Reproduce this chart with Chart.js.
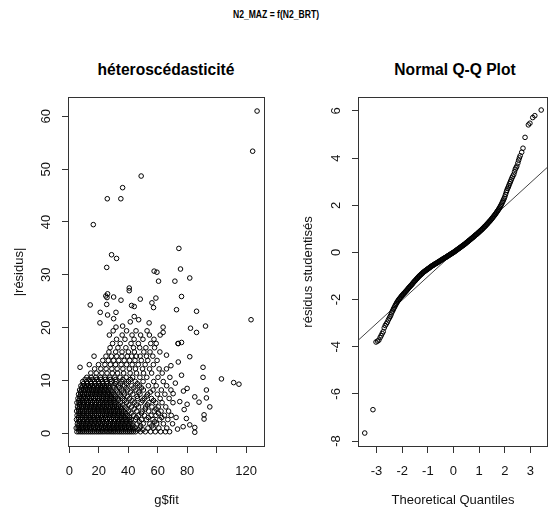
<!DOCTYPE html>
<html lang="fr">
<head>
<meta charset="utf-8">
<script src="https://cdn.jsdelivr.net/npm/chart.js@4.4.1/dist/chart.umd.min.js"></script>
<style>
  html, body { margin: 0; padding: 0; background: #fff; overflow: hidden; }
  #page { position: relative; width: 552px; height: 508px; font-family: 'Liberation Sans', Arial, sans-serif; }
  canvas { position: absolute; top: 0; }
  .titre { position: absolute; font-weight: bold; color: #000; white-space: nowrap; }
</style>
</head>
<body>
<div id="page">
  <div class="titre" style="left:276px;top:8px;font-size:11px;transform:translateX(-50%) scaleX(0.78)">N2_MAZ = f(N2_BRT)</div>
  <div class="titre" style="left:166px;top:61px;font-size:15.6px;transform:translateX(-50%)">héteroscédasticité</div>
  <div class="titre" style="left:455px;top:61px;font-size:15.6px;transform:translateX(-50%)">Normal Q-Q Plot</div>
  <canvas id="residus" width="276" height="508" style="left:0"></canvas>
  <canvas id="qqplot" width="276" height="508" style="left:276px"></canvas>
</div>
<script>
// Nuage |résidus| en fonction de g$fit : [fit, |résidu|]
const nuageDense = [
  [5.2,0.3],[7.8,0.3],[10.4,0.3],[13.1,0.3],[15.7,0.3],[18.4,0.3],[21.0,0.3],[23.6,0.3],[26.3,0.3],[28.9,0.3],[31.5,0.3],[34.2,0.3],[36.8,0.3],[39.5,0.3],[42.1,0.3],[45.0,0.3],[48.3,0.3],[51.6,0.3],[55.2,0.3],[58.4,0.3],[62.0,0.3],[65.3,0.3],[68.1,0.3],
  [4.7,1.0],[7.2,1.0],[9.9,1.0],[12.5,1.0],[15.1,1.0],[17.8,1.0],[20.4,1.0],[23.1,1.0],[25.7,1.0],[28.4,1.0],[31.0,1.0],[33.6,1.0],[36.3,1.0],[38.9,1.0],[41.7,1.0],[44.6,1.0],[47.9,1.0],[53.4,1.0],[57.0,1.0],[60.8,1.0],[66.2,1.0],
  [5.5,1.8],[8.1,1.8],[10.8,1.8],[13.4,1.8],[16.0,1.8],[18.7,1.8],[21.3,1.8],[24.0,1.8],[26.6,1.8],[29.3,1.8],[31.9,1.8],[34.5,1.8],[37.2,1.8],[39.8,1.8],[42.6,1.8],[46.1,1.8],[50.2,1.8],[54.7,1.8],[59.3,1.8],[63.9,1.8],[70.1,1.8],
  [4.9,2.6],[7.5,2.6],[10.1,2.6],[12.8,2.6],[15.4,2.6],[18.1,2.6],[20.7,2.6],[23.3,2.6],[26.0,2.6],[28.6,2.6],[31.3,2.6],[33.9,2.6],[36.5,2.6],[39.2,2.6],[42.0,2.6],[44.9,2.6],[49.0,2.6],[52.5,2.6],[56.8,2.6],[61.4,2.6],[66.9,2.6],
  [5.3,3.4],[7.9,3.4],[10.6,3.4],[13.2,3.4],[15.9,3.4],[18.5,3.4],[21.2,3.4],[23.8,3.4],[26.4,3.4],[29.1,3.4],[31.7,3.4],[34.4,3.4],[37.0,3.4],[39.7,3.4],[43.5,3.4],[47.2,3.4],[51.1,3.4],[55.5,3.4],[58.9,3.4],[64.6,3.4],[69.2,3.4],
  [5.0,4.2],[7.6,4.2],[10.3,4.2],[12.9,4.2],[15.6,4.2],[18.2,4.2],[20.8,4.2],[23.5,4.2],[26.1,4.2],[28.8,4.2],[31.4,4.2],[34.0,4.2],[36.7,4.2],[40.3,4.2],[45.8,4.2],[49.5,4.2],[53.9,4.2],[57.7,4.2],[62.3,4.2],[67.4,4.2],
  [5.6,5.0],[8.2,5.0],[10.9,5.0],[13.5,5.0],[16.2,5.0],[18.8,5.0],[21.4,5.0],[24.1,5.0],[26.7,5.0],[29.4,5.0],[32.0,5.0],[34.7,5.0],[37.9,5.0],[42.2,5.0],[47.0,5.0],[51.8,5.0],[56.1,5.0],[60.4,5.0],[65.5,5.0],
  [5.2,5.8],[7.8,5.8],[10.5,5.8],[13.1,5.8],[15.8,5.8],[18.4,5.8],[21.1,5.8],[23.7,5.8],[26.3,5.8],[29.0,5.8],[31.6,5.8],[34.9,5.8],[38.8,5.8],[44.1,5.8],[48.8,5.8],[54.0,5.8],[58.7,5.8],[63.0,5.8],[70.4,5.8],
  [5.9,6.6],[8.5,6.6],[11.2,6.6],[13.8,6.6],[16.5,6.6],[19.1,6.6],[21.7,6.6],[24.4,6.6],[27.0,6.6],[29.7,6.6],[32.6,6.6],[36.2,6.6],[41.0,6.6],[46.3,6.6],[50.9,6.6],[55.8,6.6],[61.7,6.6],[67.8,6.6],
  [6.3,7.4],[9.0,7.4],[11.6,7.4],[14.3,7.4],[16.9,7.4],[19.5,7.4],[22.2,7.4],[24.8,7.4],[27.5,7.4],[30.3,7.4],[33.8,7.4],[37.6,7.4],[43.1,7.4],[48.0,7.4],[53.2,7.4],[59.8,7.4],[64.9,7.4],
  [7.0,8.2],[9.6,8.2],[12.3,8.2],[14.9,8.2],[17.6,8.2],[20.2,8.2],[22.8,8.2],[25.5,8.2],[28.3,8.2],[31.9,8.2],[35.6,8.2],[39.7,8.2],[45.2,8.2],[50.3,8.2],[56.9,8.2],[62.5,8.2],[69.0,8.2],
  [7.9,9.0],[10.5,9.0],[13.2,9.0],[15.8,9.0],[18.5,9.0],[21.1,9.0],[23.7,9.0],[26.6,9.0],[29.8,9.0],[33.4,9.0],[37.5,9.0],[42.4,9.0],[47.6,9.0],[53.7,9.0],[59.0,9.0],[66.1,9.0],
  [9.1,9.8],[11.8,9.8],[14.4,9.8],[17.1,9.8],[19.7,9.8],[22.4,9.8],[25.3,9.8],[28.5,9.8],[31.9,9.8],[35.7,9.8],[40.2,9.8],[44.8,9.8],[50.1,9.8],[57.3,9.8],[63.8,9.8]
];
// points intercalés du coeur du nuage
const nuageCoeur = [
  [6.5,0.65],[9.1,0.65],[11.7,0.65],[14.4,0.65],[17.0,0.65],[19.7,0.65],[22.3,0.65],[25.0,0.65],[27.6,0.65],[30.2,0.65],[32.9,0.65],[35.5,0.65],[38.2,0.65],[40.8,0.65],[43.6,0.65],[46.7,0.65],[50.0,0.65],
  [6.0,1.4],[8.6,1.4],[11.2,1.4],[13.9,1.4],[16.5,1.4],[19.1,1.4],[21.8,1.4],[24.4,1.4],[27.1,1.4],[29.7,1.4],[32.4,1.4],[35.0,1.4],[37.6,1.4],[40.3,1.4],[43.2,1.4],[48.5,1.4],[56.0,1.4],
  [6.8,2.2],[9.4,2.2],[12.1,2.2],[14.7,2.2],[17.3,2.2],[20.0,2.2],[22.6,2.2],[25.3,2.2],[27.9,2.2],[30.5,2.2],[33.2,2.2],[35.8,2.2],[38.5,2.2],[41.3,2.2],[47.5,2.2],[58.0,2.2],
  [6.2,3.0],[8.8,3.0],[11.4,3.0],[14.1,3.0],[16.7,3.0],[19.4,3.0],[22.0,3.0],[24.6,3.0],[27.3,3.0],[29.9,3.0],[32.6,3.0],[35.2,3.0],[37.8,3.0],[41.0,3.0],[45.5,3.0],[53.6,3.0],[62.8,3.0],
  [6.6,3.8],[9.2,3.8],[11.9,3.8],[14.5,3.8],[17.2,3.8],[19.8,3.8],[22.5,3.8],[25.1,3.8],[27.7,3.8],[30.4,3.8],[33.0,3.8],[35.7,3.8],[38.4,3.8],[42.0,3.8],[49.0,3.8],[60.5,3.8],
  [6.3,4.6],[8.9,4.6],[11.6,4.6],[14.2,4.6],[16.9,4.6],[19.5,4.6],[22.1,4.6],[24.8,4.6],[27.4,4.6],[30.1,4.6],[32.7,4.6],[35.4,4.6],[39.0,4.6],[44.0,4.6],[51.5,4.6],[58.9,4.6],
  [6.9,5.4],[9.5,5.4],[12.2,5.4],[14.8,5.4],[17.5,5.4],[20.1,5.4],[22.7,5.4],[25.4,5.4],[28.0,5.4],[30.7,5.4],[33.4,5.4],[36.4,5.4],[40.5,5.4],[45.6,5.4],[53.0,5.4],
  [6.5,6.2],[9.1,6.2],[11.8,6.2],[14.4,6.2],[17.1,6.2],[19.7,6.2],[22.4,6.2],[25.0,6.2],[27.6,6.2],[30.4,6.2],[33.3,6.2],[37.4,6.2],[42.6,6.2],[49.8,6.2],[57.2,6.2],
  [7.2,7.0],[9.8,7.0],[12.5,7.0],[15.1,7.0],[17.8,7.0],[20.4,7.0],[23.0,7.0],[25.7,7.0],[28.3,7.0],[31.2,7.0],[35.0,7.0],[39.4,7.0],[46.0,7.0],[52.3,7.0],
  [7.7,7.8],[10.3,7.8],[12.9,7.8],[15.6,7.8],[18.2,7.8],[20.9,7.8],[23.5,7.8],[26.2,7.8],[29.0,7.8],[32.8,7.8],[36.7,7.8],[41.5,7.8],[47.2,7.8],[55.0,7.8],
  [8.4,8.6],[11.0,8.6],[13.7,8.6],[16.3,8.6],[19.0,8.6],[21.6,8.6],[24.2,8.6],[27.0,8.6],[30.3,8.6],[34.1,8.6],[38.6,8.6],[43.8,8.6],[49.0,8.6],
  [9.6,9.4],[12.2,9.4],[14.8,9.4],[17.5,9.4],[20.1,9.4],[22.8,9.4],[25.5,9.4],[28.2,9.4],[31.2,9.4],[34.6,9.4],[38.9,9.4],[46.2,9.4],
  [10.7,10.2],[13.4,10.2],[16.0,10.2],[18.7,10.2],[21.5,10.2],[24.5,10.2],[27.8,10.2],[31.6,10.2],[36.4,10.2],[41.5,10.2]
];
// troisième série du coeur, la plus noire (g$fit 5 à 43, |résidus| 0 à 9)
const nuageNoyau = [
  [6.5,0.3],[9.1,0.3],[11.8,0.3],[14.4,0.3],[17.0,0.3],[19.7,0.3],[22.3,0.3],[25.0,0.3],[27.6,0.3],[30.2,0.3],[32.9,0.3],[35.5,0.3],[38.2,0.3],[40.8,0.3],[43.5,0.3],
  [6.0,1.0],[8.5,1.0],[11.2,1.0],[13.8,1.0],[16.5,1.0],[19.1,1.0],[21.8,1.0],[24.4,1.0],[27.0,1.0],[29.7,1.0],[32.3,1.0],[35.0,1.0],[37.6,1.0],[40.3,1.0],[43.1,1.0],
  [6.8,1.8],[9.5,1.8],[12.1,1.8],[14.7,1.8],[17.4,1.8],[20.0,1.8],[22.7,1.8],[25.3,1.8],[27.9,1.8],[30.6,1.8],[33.2,1.8],[35.9,1.8],[38.5,1.8],[41.2,1.8],
  [6.2,2.6],[8.8,2.6],[11.5,2.6],[14.1,2.6],[16.8,2.6],[19.4,2.6],[22.0,2.6],[24.7,2.6],[27.3,2.6],[30.0,2.6],[32.6,2.6],[35.2,2.6],[37.9,2.6],[40.6,2.6],
  [6.6,3.4],[9.3,3.4],[11.9,3.4],[14.6,3.4],[17.2,3.4],[19.9,3.4],[22.5,3.4],[25.1,3.4],[27.8,3.4],[30.4,3.4],[33.1,3.4],[35.7,3.4],[38.4,3.4],
  [6.3,4.2],[9.0,4.2],[11.6,4.2],[14.3,4.2],[16.9,4.2],[19.5,4.2],[22.2,4.2],[24.8,4.2],[27.5,4.2],[30.1,4.2],[32.7,4.2],[35.4,4.2],
  [6.9,5.0],[9.6,5.0],[12.2,5.0],[14.9,5.0],[17.5,5.0],[20.1,5.0],[22.8,5.0],[25.4,5.0],[28.1,5.0],[30.7,5.0],[33.4,5.0],
  [6.5,5.8],[9.2,5.8],[11.8,5.8],[14.5,5.8],[17.1,5.8],[19.8,5.8],[22.4,5.8],[25.0,5.8],[27.7,5.8],[30.3,5.8],
  [7.2,6.6],[9.9,6.6],[12.5,6.6],[15.2,6.6],[17.8,6.6],[20.4,6.6],[23.1,6.6],[25.7,6.6],[28.4,6.6],[31.2,6.6],
  [7.7,7.4],[10.3,7.4],[13.0,7.4],[15.6,7.4],[18.2,7.4],[20.9,7.4],[23.5,7.4],[26.2,7.4],[28.9,7.4],
  [8.3,8.2],[11.0,8.2],[13.6,8.2],[16.3,8.2],[18.9,8.2],[21.5,8.2],[24.2,8.2],[26.9,8.2],
  [9.2,9.0],[11.9,9.0],[14.5,9.0],[17.2,9.0],[19.8,9.0],[22.4,9.0],[25.2,9.0]
];
const nuageMoyen = [
  [11.9,10.6],[14.9,10.6],[18.0,10.6],[21.2,10.6],[24.3,10.6],[27.6,10.6],[31.0,10.6],[34.5,10.6],[38.6,10.6],[43.0,10.6],[47.9,10.6],[52.6,10.6],[60.2,10.6],[68.3,10.6],
  [14.6,11.4],[18.3,11.4],[22.1,11.4],[25.6,11.4],[29.2,11.4],[32.8,11.4],[36.9,11.4],[41.3,11.4],[45.6,11.4],[50.4,11.4],[55.9,11.4],[63.1,11.4],
  [17.2,12.2],[21.4,12.2],[25.0,12.2],[28.9,12.2],[32.5,12.2],[36.4,12.2],[40.8,12.2],[44.9,12.2],[49.7,12.2],[54.5,12.2],[61.0,12.2],[66.0,12.2],
  [13.6,13.0],[19.8,13.0],[24.2,13.0],[27.9,13.0],[31.4,13.0],[35.2,13.0],[38.9,13.0],[42.7,13.0],[46.8,13.0],[51.5,13.0],[57.1,13.0],
  [22.7,13.8],[26.5,13.8],[30.1,13.8],[33.6,13.8],[37.3,13.8],[41.0,13.8],[44.6,13.8],[48.9,13.8],[53.3,13.8],[59.6,13.8],
  [16.8,14.6],[24.9,14.6],[28.6,14.6],[32.2,14.6],[35.7,14.6],[39.4,14.6],[42.3,14.6],[45.5,14.6],[48.1,14.6],[52.4,14.6],[56.7,14.6],
  [26.9,15.4],[31.5,15.4],[35.8,15.4],[40.1,15.4],[44.2,15.4],[50.6,15.4],[54.8,15.4],[61.5,15.4],
  [27.7,16.2],[33.0,16.2],[38.4,16.2],[43.6,16.2],[47.8,16.2],[52.0,16.2],[57.9,16.2],
  [29.4,17.0],[34.6,17.0],[41.9,17.0],[46.9,17.0],[55.3,17.0],[59.0,17.0],[73.9,17.0],
  [32.1,17.8],[37.8,17.8],[44.0,17.8],[50.0,17.8],[57.5,17.8],[76.2,17.2],
  [27.2,18.6],[35.9,18.6],[42.6,18.6],[48.4,18.6],[54.4,18.6],[61.7,18.6],
  [29.8,19.4],[38.9,19.4],[45.3,19.4],[52.8,19.4],[63.7,19.1]
];
const nuageEpars = [
  [127.5,61.0],[124.5,53.4],[48.8,48.7],[36.2,46.5],[25.8,44.4],[35.0,44.4],[16.3,39.5],[74.4,35.0],
  [28.7,33.8],[32.1,33.1],[25.4,31.4],[75.5,31.1],[57.6,30.7],[59.5,30.5],[81.8,29.4],[60.6,28.8],
  [71.7,28.8],[40.7,27.5],[40.7,27.0],[26.0,26.4],[25.6,25.7],[24.8,26.0],[30.1,25.8],[35.1,25.2],
  [48.2,25.4],[58.8,25.6],[76.2,25.9],[56.1,24.7],[14.2,24.3],[25.4,24.4],[42.3,24.2],[44.1,24.0],
  [57.2,23.8],[72.8,23.4],[86.4,23.1],[21.0,22.9],[31.7,22.9],[26.0,22.4],[30.1,21.7],[123.4,21.5],
  [20.8,20.9],[54.2,20.9],[92.5,20.3],[82.3,19.9],[86.4,19.1],[63.7,20.1],[31.7,20.1],[36.2,20.3],
  [41.4,21.1],[44.1,22.1],[47.1,21.5],[7.3,12.5],[73.9,17.0],[81.8,14.5],[90.8,12.5],[90.8,10.6],
  [103.3,10.3],[111.6,9.6],[115.2,9.3],[93.1,8.2],[93.1,6.7],[85.2,6.9],[88.1,5.9],[95.4,5.0],
  [91.5,3.5],[91.5,2.7],[81.8,1.6],[85.2,1.1],[85.2,0.2],[77.3,1.25],[76.2,11.0],[80.0,8.5],
  [72.0,9.5],[70.5,7.5],[75.0,6.0],[78.0,4.5],[72.5,3.0],[80.0,5.5],[66.0,14.8],[69.0,12.8],
  [74.0,13.5],[77.5,8.0],[73.5,0.8],[79.5,2.8]
];

// Q-Q plot : [quantile théorique, résidu studentisé]
const qqQueueBasse = [
  [-3.46,-7.66],[-3.14,-6.67],[-3.02,-3.80],[-2.96,-3.76],[-2.91,-3.72],[-2.86,-3.61],[-2.82,-3.53],
  [-2.78,-3.44],[-2.74,-3.36],[-2.70,-3.20],[-2.66,-3.10],[-2.62,-3.03],[-2.58,-2.96],[-2.54,-2.86],
  [-2.50,-2.78],[-2.47,-2.72],[-2.44,-2.65],[-2.41,-2.56],[-2.38,-2.49],[-2.35,-2.43],[-2.33,-2.37]
];
const qqCentre = [
  [-2.30,-2.32],[-2.25,-2.21],[-2.20,-2.11],[-2.15,-2.03],[-2.10,-1.96],[-2.05,-1.89],[-2.00,-1.82],
  [-1.95,-1.76],[-1.90,-1.70],[-1.85,-1.64],[-1.80,-1.58],[-1.75,-1.51],[-1.70,-1.45],[-1.65,-1.39],
  [-1.60,-1.33],[-1.55,-1.26],[-1.50,-1.20],[-1.45,-1.14],[-1.40,-1.08],[-1.35,-1.02],[-1.30,-0.97],
  [-1.25,-0.92],[-1.20,-0.87],[-1.15,-0.82],[-1.10,-0.78],[-1.05,-0.74],[-1.00,-0.70],[-0.95,-0.66],
  [-0.90,-0.62],[-0.85,-0.58],[-0.80,-0.55],[-0.75,-0.51],[-0.70,-0.48],[-0.65,-0.45],[-0.60,-0.41],
  [-0.55,-0.38],[-0.50,-0.34],[-0.45,-0.31],[-0.40,-0.27],[-0.35,-0.24],[-0.30,-0.21],[-0.25,-0.17],
  [-0.20,-0.14],[-0.15,-0.10],[-0.10,-0.07],[-0.05,-0.03],[0.00,0.00],[0.05,0.04],[0.10,0.08],
  [0.15,0.12],[0.20,0.16],[0.25,0.20],[0.30,0.24],[0.35,0.28],[0.40,0.32],[0.45,0.36],[0.50,0.41],
  [0.55,0.45],[0.60,0.50],[0.65,0.54],[0.70,0.59],[0.75,0.63],[0.80,0.68],[0.85,0.73],[0.90,0.77],
  [0.95,0.82],[1.00,0.87],[1.05,0.92],[1.10,0.97],[1.15,1.02],[1.20,1.08],[1.25,1.13],[1.30,1.19],
  [1.35,1.25],[1.40,1.31],[1.45,1.37],[1.50,1.44],[1.55,1.51],[1.60,1.58],[1.65,1.65],[1.70,1.73],
  [1.75,1.81],[1.80,1.90],[1.85,2.00],[1.90,2.11],[1.95,2.23],[2.00,2.36]
];
const qqCentreBis = [
  [-2.275,-2.26],[-2.225,-2.16],[-2.175,-2.07],[-2.125,-1.99],[-2.075,-1.92],[-2.025,-1.85],[-1.975,-1.79],
  [-1.925,-1.73],[-1.875,-1.67],[-1.825,-1.61],[-1.775,-1.54],[-1.725,-1.48],[-1.675,-1.42],[-1.625,-1.36],
  [-1.575,-1.29],[-1.525,-1.23],[-1.475,-1.17],[-1.425,-1.11],[-1.375,-1.05],[-1.325,-0.99],[-1.275,-0.94],
  [-1.225,-0.89],[-1.175,-0.84],[-1.125,-0.80],[-1.075,-0.76],[-1.025,-0.72],[-0.975,-0.68],[-0.925,-0.64],
  [-0.875,-0.60],[-0.825,-0.56],[-0.775,-0.53],[-0.725,-0.49],[-0.675,-0.46],[-0.625,-0.43],[-0.575,-0.39],
  [-0.525,-0.36],[-0.475,-0.32],[-0.425,-0.29],[-0.375,-0.25],[-0.325,-0.22],[-0.275,-0.19],[-0.225,-0.15],
  [-0.175,-0.12],[-0.125,-0.08],[-0.075,-0.05],[-0.025,-0.01],[0.025,0.02],[0.075,0.06],[0.125,0.10],
  [0.175,0.14],[0.225,0.18],[0.275,0.22],[0.325,0.26],[0.375,0.30],[0.425,0.34],[0.475,0.38],[0.525,0.43],
  [0.575,0.47],[0.625,0.52],[0.675,0.56],[0.725,0.61],[0.775,0.65],[0.825,0.70],[0.875,0.75],[0.925,0.79],
  [0.975,0.84],[1.025,0.89],[1.075,0.94],[1.125,0.99],[1.175,1.05],[1.225,1.10],[1.275,1.16],[1.325,1.22],
  [1.375,1.28],[1.425,1.34],[1.475,1.40],[1.525,1.47],[1.575,1.54],[1.625,1.61],[1.675,1.69],[1.725,1.77],
  [1.775,1.85],[1.825,1.95],[1.875,2.05],[1.925,2.17],[1.975,2.29]
];
const qqQueueHaute = [
  [2.03,2.46],[2.06,2.56],[2.08,2.63],[2.11,2.71],[2.14,2.78],[2.16,2.84],[2.19,2.92],[2.22,3.00],
  [2.25,3.08],[2.28,3.16],[2.31,3.23],[2.35,3.31],[2.38,3.42],[2.41,3.53],[2.44,3.59],[2.47,3.66],
  [2.51,3.79],[2.54,3.91],[2.57,4.01],[2.60,4.10],[2.66,4.25],[2.71,4.42],[2.79,4.88],[2.92,5.41],
  [2.98,5.48],[3.09,5.72],[3.17,5.80],[3.42,6.04]
];
// droite de Henry (qqline), deux extrémités
const qqDroite = [[-3.7,-3.71],[3.7,3.65]];

// graduations
const fitTicks = [0, 20, 40, 60, 80, 100, 120];
const fitLabels = ['0', '20', '40', '60', '80', '', '120'];
const residTicks = [0, 10, 20, 30, 40, 50, 60];
const quantTicks = [-3, -2, -1, 0, 1, 2, 3];
const studTicks = [-8, -6, -4, -2, 0, 2, 4, 6];

const police = { family: "'Liberation Sans', Arial, sans-serif", size: 13 };

// cadre autour de la zone de tracé (comme R)
const cadre = {
  id: 'cadre',
  afterDraw(chart) {
    const { ctx, chartArea: a } = chart;
    ctx.save();
    ctx.strokeStyle = '#333';
    ctx.lineWidth = 1;
    ctx.strokeRect(Math.round(a.left) - 0.5, Math.round(a.top) - 0.5,
      Math.round(a.right - a.left) + 1, Math.round(a.bottom - a.top) + 1);
    ctx.restore();
  }
};

function versPoints(liste) {
  return liste.map(([x, y]) => ({ x, y }));
}

function axe(min, max, ticks, labels, titre, opts) {
  return {
    type: 'linear',
    min, max,
    afterBuildTicks: s => { s.ticks = ticks.map(v => ({ value: v })); },
    afterFit: s => { if (opts.largeur) s.width = opts.largeur; if (opts.hauteur) s.height = opts.hauteur; },
    border: { display: false },
    grid: { drawOnChartArea: false, drawTicks: true, tickLength: 7, tickColor: '#333', lineWidth: 1 },
    ticks: {
      autoSkip: false,
      color: '#111',
      font: police,
      padding: opts.pad,
      minRotation: opts.rot || 0,
      maxRotation: opts.rot || 0,
      crossAlign: opts.rot ? 'center' : 'near',
      callback: (v, i) => labels[i]
    },
    title: { display: true, text: titre, color: '#111', font: police, padding: opts.titrePad }
  };
}

function nuage(donnees) {
  return {
    data: versPoints(donnees),
    pointStyle: 'circle',
    pointRadius: 2.3,
    pointBorderWidth: 1,
    pointBorderColor: '#000',
    pointBackgroundColor: 'rgba(0,0,0,0)',
    showLine: false
  };
}

function main() {
  Chart.defaults.animation = false;

  new Chart(document.getElementById('residus'), {
    type: 'scatter',
    data: { datasets: [nuage(nuageDense), nuage(nuageCoeur), nuage(nuageNoyau), nuage(nuageMoyen), nuage(nuageEpars)] },
    options: {
      responsive: false,
      events: [],
      layout: { padding: { top: 98, right: 12, left: 0, bottom: 0 } },
      plugins: { legend: { display: false }, tooltip: { enabled: false } },
      scales: {
        x: axe(-0.2, 132.2, fitTicks, fitLabels, 'g$fit', { hauteur: 62, pad: 11, titrePad: { top: 0, bottom: 0 } }),
        y: axe(-2.4, 63.47, residTicks, residTicks.map(String), '|résidus|', { largeur: 69, pad: 8, rot: 90, titrePad: { top: 12, bottom: 0 } })
      }
    },
    plugins: [cadre]
  });

  new Chart(document.getElementById('qqplot'), {
    type: 'scatter',
    data: {
      datasets: [
        nuage(qqQueueBasse), nuage(qqCentre), nuage(qqCentreBis), nuage(qqQueueHaute),
        {
          type: 'line',
          data: versPoints(qqDroite),
          borderColor: '#444',
          borderWidth: 1,
          pointRadius: 0,
          fill: false
        }
      ]
    },
    options: {
      responsive: false,
      events: [],
      layout: { padding: { top: 98, right: 0, left: 0, bottom: 0 } },
      plugins: { legend: { display: false }, tooltip: { enabled: false } },
      scales: {
        x: axe(-3.684, 3.646, quantTicks, quantTicks.map(String), 'Theoretical Quantiles', { hauteur: 62, pad: 11, titrePad: { top: 0, bottom: 0 } }),
        y: axe(-8.21, 6.55, studTicks, studTicks.map(String), 'résidus studentisés', { largeur: 83, pad: 9.5, rot: 90, titrePad: { top: 24.5, bottom: 0 } })
      }
    },
    plugins: [cadre]
  });
}

main();
</script>
</body>
</html>
